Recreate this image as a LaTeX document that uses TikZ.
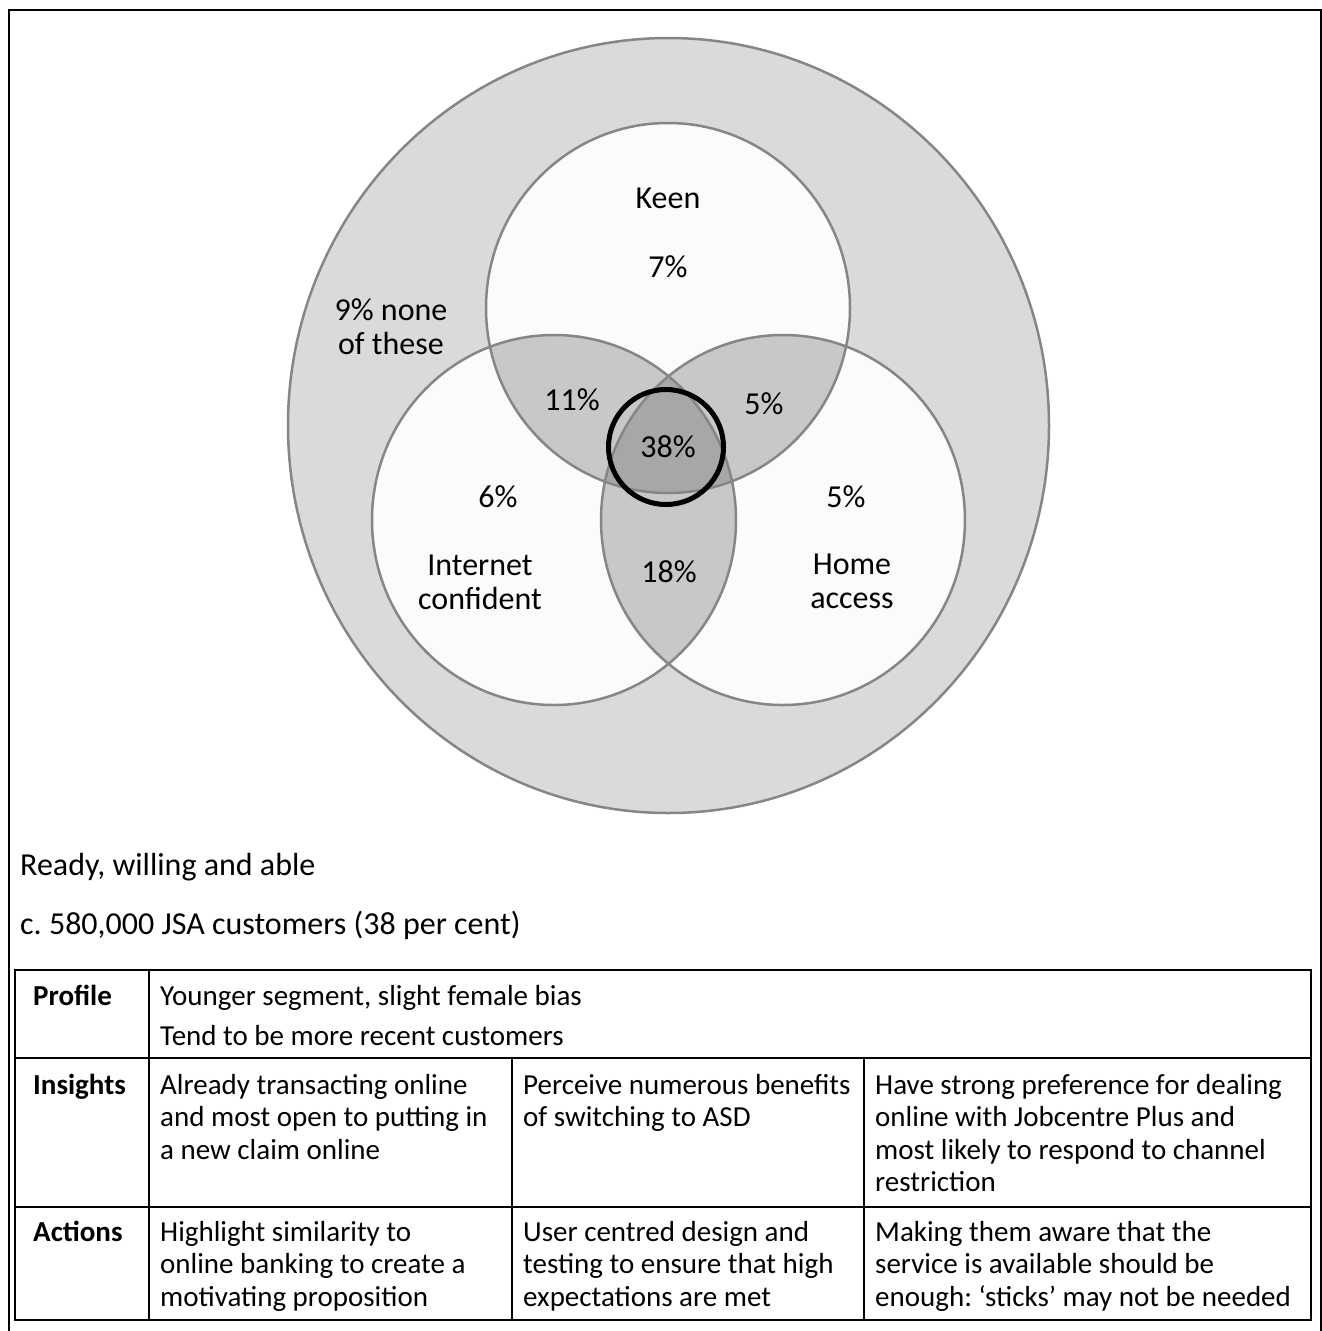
\documentclass[tikz,border=0pt]{standalone}
\usepackage{fontspec}
\setmainfont{Carlito}
\frenchspacing
\definecolor{outerg}{HTML}{D9DADC}
\definecolor{singleg}{HTML}{FBFBFB}
\definecolor{pairg}{HTML}{C7C8CA}
\definecolor{tripg}{HTML}{A7A7A8}
\definecolor{edgeg}{HTML}{878680}
\begin{document}
\begin{tikzpicture}[x=1pt,y=-1pt,
  vc/.style={x radius=182pt, y radius=185pt},
  edge/.style={draw=edgeg, line width=2.5pt},
  frameline/.style={draw=black, line width=2.5pt},
  tbl/.style={draw=black, line width=2.5pt},
  vlabel/.style={inner sep=0pt, align=center, font=\fontsize{32}{34}\selectfont\frenchspacing},
  cell/.style={anchor=base west, inner sep=0pt, font=\fontsize{29}{32}\selectfont\frenchspacing},
  head/.style={anchor=base west, inner sep=0pt, font=\fontsize{29}{32}\selectfont\bfseries},
  caption/.style={anchor=base west, inner sep=0pt, font=\fontsize{32}{36}\selectfont\frenchspacing}]
\useasboundingbox (0,0) rectangle (1322,1331);
\fill[white] (0,0) rectangle (1322,1331);
% frame (open at the bottom)
\draw[frameline] (9,1331) -- (9,10) -- (1321,10) -- (1321,1331);

% Venn
\coordinate (O) at (668.5,425.5);
\coordinate (K) at (668,308);
\coordinate (I) at (554,520);
\coordinate (H) at (783,520);
\fill[outerg] (O) ellipse [x radius=380.5pt, y radius=387.5pt];
\draw[edge] (O) ellipse [x radius=380.5pt, y radius=387.5pt];
\fill[singleg] (K) ellipse [vc];
\fill[singleg] (I) ellipse [vc];
\fill[singleg] (H) ellipse [vc];
\begin{scope}
  \clip (K) ellipse [vc];
  \fill[pairg] (I) ellipse [vc];
  \fill[pairg] (H) ellipse [vc];
\end{scope}
\begin{scope}
  \clip (I) ellipse [vc];
  \fill[pairg] (H) ellipse [vc];
\end{scope}
\begin{scope}
  \clip (K) ellipse [vc];
  \clip (I) ellipse [vc];
  \fill[tripg] (H) ellipse [vc];
\end{scope}
\draw[edge] (K) ellipse [vc];
\draw[edge] (I) ellipse [vc];
\draw[edge] (H) ellipse [vc];
\draw[black, line width=5pt] (666,447) circle [radius=57.5pt];

\node[vlabel] (keen) at (668,198) {Keen};
\node[vlabel] (k7) at (668,267) {7\%};
\node[vlabel] (none) at (391,327) {9\% none\\of these};
\node[vlabel] (ki11) at (572,400) {11\%};
\node[vlabel] (kh5) at (764,404) {5\%};
\node[vlabel] (all38) at (668,447) {38\%};
\node[vlabel] (i6) at (498,497) {6\%};
\node[vlabel] (h5) at (846,497) {5\%};
\node[vlabel] (inet) at (480,582) {Internet\\confident};
\node[vlabel] (ih18) at (669,572) {18\%};
\node[vlabel] (home) at (852,581) {Home\\access};

% captions
\node[caption] (cap1) at (20,875) {Ready, willing and able};
\node[caption] (cap2) at (20,934) {c. 580,000 JSA customers (38 per cent)};

% table
\draw[tbl] (15,970) rectangle (1311,1320);
\draw[tbl] (15,1058) -- (1311,1058);
\draw[tbl] (15,1207) -- (1311,1207);
\draw[tbl] (149,970) -- (149,1320);
\draw[tbl] (512,1058) -- (512,1320);
\draw[tbl] (864,1058) -- (864,1320);

\node[head] (hprof) at (33,1005) {Profile};
\node[head] (hins) at (33,1094) {Insights};
\node[head] (hact) at (33,1241) {Actions};

\node[cell] (p1) at (160,1005) {Younger segment, slight female bias};
\node[cell] (p2) at (160,1045) {Tend to be more recent customers};

\node[cell] (i1a) at (160,1094) {Already transacting online};
\node[cell] (i1b) at (160,1126) {and most open to putting in};
\node[cell] (i1c) at (160,1159) {a new claim online};
\node[cell] (i2a) at (523,1094) {Perceive numerous benefits};
\node[cell] (i2b) at (523,1126) {of switching to ASD};
\node[cell] (i3a) at (875,1094) {Have strong preference for dealing};
\node[cell] (i3b) at (875,1126) {online with Jobcentre Plus and};
\node[cell] (i3c) at (875,1159) {most likely to respond to channel};
\node[cell] (i3d) at (875,1191) {restriction};

\node[cell] (a1a) at (160,1241) {Highlight similarity to};
\node[cell] (a1b) at (160,1273) {online banking to create a};
\node[cell] (a1c) at (160,1306) {motivating proposition};
\node[cell] (a2a) at (523,1241) {User centred design and};
\node[cell] (a2b) at (523,1273) {testing to ensure that high};
\node[cell] (a2c) at (523,1306) {expectations are met};
\node[cell] (a3a) at (875,1241) {Making them aware that the};
\node[cell] (a3b) at (875,1273) {service is available should be};
\node[cell] (a3c) at (875,1306) {enough: ‘sticks’ may not be needed};
\end{tikzpicture}
\end{document}
